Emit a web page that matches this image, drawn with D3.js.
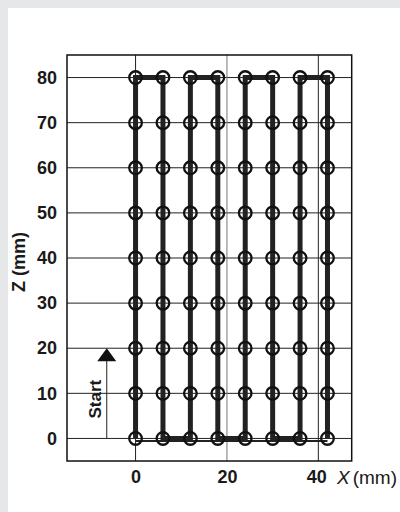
<!DOCTYPE html>
<html>
<head>
<meta charset="utf-8">
<script src="https://cdn.jsdelivr.net/npm/d3@7"></script>
<style>
  body { margin: 0; background: #e6e7e9; }
  svg { display: block; }
  text { font-family: "Liberation Sans", Arial, sans-serif; fill: #1a1a1a; }
</style>
</head>
<body>
<svg id="chart" width="400" height="512"></svg>
<script>
// grid of measurement points (mm)
const pointX = [0, 6, 12, 18, 24, 30, 36, 42];
const pointZ = [0, 10, 20, 30, 40, 50, 60, 70, 80];

// scan path, serpentine
const pathX = [0, 0, 6, 6, 12, 12, 18, 18, 24, 24, 30, 30, 36, 36, 42, 42];
const pathZ = [0, 80, 80, 0, 0, 80, 80, 0, 0, 80, 80, 0, 0, 80, 80, 0];
// return along the bottom
const returnX = [42, 0];
const returnZ = [0, 0];

const xTicks = [0, 20, 40];
const zTicks = [0, 10, 20, 30, 40, 50, 60, 70, 80];

// start arrow
const startX = -6.3;
const startZ = [0, 20];

const svg = d3.select('#chart');

// white panel
svg.append('rect')
    .attr('x', 8).attr('y', 8)
    .attr('width', 392).attr('height', 504)
    .attr('fill', '#fff');

const m = { l: 67, r: 351.7, t: 55, b: 461 };

const x = d3.scaleLinear().domain([-15, 47.3]).range([m.l, m.r]);
const z = d3.scaleLinear().domain([-5, 85]).range([m.b, m.t]);

const g = svg.append('g');

// grid lines
g.selectAll('.hgrid')
    .data(zTicks)
    .enter()
        .append('line')
            .attr('x1', m.l).attr('x2', m.r)
            .attr('y1', d => z(d)).attr('y2', d => z(d))
            .attr('stroke', '#222').attr('stroke-width', 1);

g.selectAll('.vgrid')
    .data(xTicks)
    .enter()
        .append('line')
            .attr('y1', m.t).attr('y2', m.b)
            .attr('x1', d => x(d)).attr('x2', d => x(d))
            .attr('stroke', (d, i) => i == 1 ? '#777' : '#222')
            .attr('stroke-width', 1);

// axes, labels only
const yAxis = d3.axisLeft(z).tickValues(zTicks).tickSize(0).tickPadding(10);
const ya = g.append('g').attr('transform', 'translate(' + m.l + ',0)').call(yAxis);
ya.select('.domain').remove();
ya.selectAll('text')
    .attr('font-size', 18).attr('font-weight', 'bold')
    .attr('font-family', '"Liberation Sans", Arial, sans-serif')
    .attr('fill', '#1a1a1a');

const xAxis = d3.axisBottom(x).tickValues(xTicks).tickSize(0).tickPadding(9);
const xa = g.append('g').attr('transform', 'translate(0,' + m.b + ')').call(xAxis);
xa.select('.domain').remove();
xa.selectAll('text')
    .attr('font-size', 18).attr('font-weight', 'bold')
    .attr('font-family', '"Liberation Sans", Arial, sans-serif')
    .attr('fill', '#1a1a1a')
    .attr('dx', (d, i) => i == 2 ? -2 : 0);

// frame
g.append('rect')
    .attr('x', m.l).attr('y', m.t)
    .attr('width', m.r - m.l).attr('height', m.b - m.t)
    .attr('fill', 'none').attr('stroke', '#111').attr('stroke-width', 1.5);

// axis titles
const xt = svg.append('text')
    .attr('x', 337).attr('y', 484)
    .attr('font-size', 19);
xt.append('tspan').attr('font-style', 'italic').text('X');
xt.append('tspan').attr('dx', 3).text('(mm)');

const zt = svg.append('text')
    .attr('transform', 'translate(25,262) rotate(-90)')
    .attr('text-anchor', 'middle')
    .attr('font-size', 18)
    .attr('font-weight', 'bold');
zt.append('tspan').text('Z (mm)');

// return line along the bottom, slightly below
const line = d3.line().x(d => x(d[0])).y(d => z(d[1]));
g.append('path')
    .attr('d', line(d3.zip(returnX, returnZ)))
    .attr('transform', 'translate(0,2.5)')
    .attr('fill', 'none').attr('stroke', '#222').attr('stroke-width', 2);

// scan path
g.append('path')
    .attr('d', line(d3.zip(pathX, pathZ)))
    .attr('fill', 'none').attr('stroke', '#222')
    .attr('stroke-width', 5).attr('stroke-linejoin', 'miter');

// measurement points
const pts = d3.cross(pointX, pointZ);
g.selectAll('.pt')
    .data(pts)
    .enter()
        .append('circle')
            .attr('cx', d => x(d[0]))
            .attr('cy', d => z(d[1]))
            .attr('r', 6.3)
            .attr('fill', 'none')
            .attr('stroke', '#111')
            .attr('stroke-width', 2.3);

// start arrow
g.append('line')
    .attr('x1', x(startX)).attr('x2', x(startX))
    .attr('y1', z(startZ[0])).attr('y2', z(startZ[1]) + 12)
    .attr('stroke', '#222').attr('stroke-width', 1);

const tip = [x(startX), z(startZ[1])];
g.append('path')
    .attr('d', 'M' + tip[0] + ',' + tip[1] + 'L' + (tip[0] + 9.5) + ',' + (tip[1] + 13) +
               'L' + (tip[0] - 9.5) + ',' + (tip[1] + 13) + 'Z')
    .attr('fill', '#111');

svg.append('text')
    .attr('transform', 'translate(' + (x(startX) - 6) + ',' + z(8.7) + ') rotate(-90)')
    .attr('text-anchor', 'middle')
    .attr('font-size', 17)
    .attr('font-weight', 'bold')
    .text('Start');
</script>
</body>
</html>
